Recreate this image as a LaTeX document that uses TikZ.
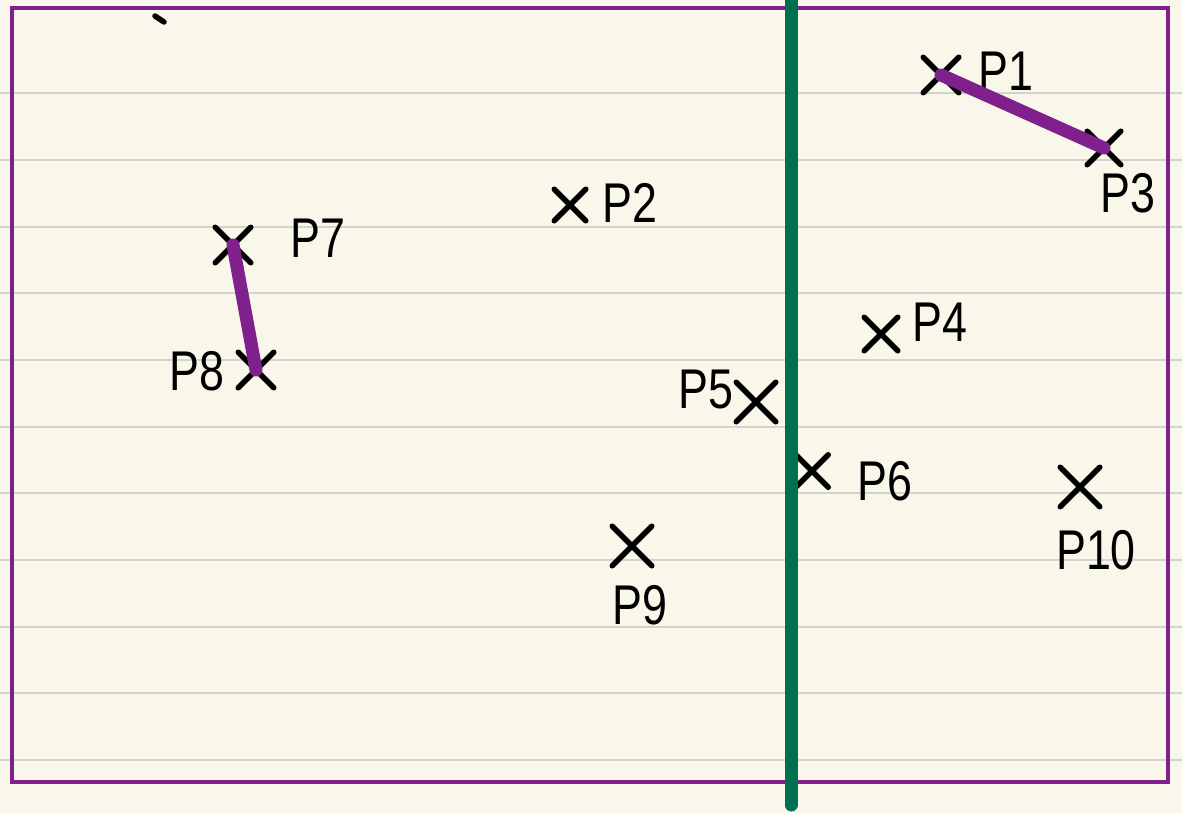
\documentclass[tikz,border=0pt]{standalone}
\usepackage{fontspec}
\setmainfont[FakeStretch=0.8]{Liberation Sans}
\usetikzlibrary{shapes.misc}
\definecolor{paper}{RGB}{249,247,234}
\definecolor{ruleGray}{RGB}{212,212,206}
\definecolor{framePurple}{RGB}{128,32,140}
\definecolor{dividerGreen}{RGB}{0,112,80}
\begin{document}
\begin{tikzpicture}[x=1pt,y=-1pt,
  rule/.style={draw=ruleGray, line width=1.8pt},
  frame/.style={draw=framePurple, line width=4.5pt},
  divider/.style={draw=dividerGreen, line width=13pt, line cap=round},
  xmark/.style={cross out, draw=black, line width=5.5pt, line cap=round, minimum size=30pt, inner sep=0pt},
  lbl/.style={font=\fontsize{56}{60}\selectfont, inner sep=0pt},
  seg/.style={draw=framePurple, line width=13pt, line cap=round}]
\useasboundingbox (0,0) rectangle (1182,813);
\fill[paper] (0,0) rectangle (1182,813);
\foreach \yy in {93,160,227,293,360,427,493,560,627,693,760}
  \draw[rule] (0,\yy) -- (1182,\yy);
\draw[frame] (12,8) rectangle (1168,782);
\draw[black, line width=5.5pt, line cap=round] (155,16) -- (164,22);
% marks
\node[xmark] (x1) at (941,75) {};
\node[xmark, minimum size=28pt] (x3) at (1104,148) {};
\node[xmark, minimum size=26pt] (x2) at (570,205) {};
\node[xmark] (x7) at (233,245) {};
\node[xmark] (x8) at (256,370) {};
\node[xmark, minimum size=28pt] (x4) at (881,334) {};
\node[xmark, minimum size=34pt] (x5) at (756,402) {};
\node[xmark, minimum size=27pt] (x6) at (812,471) {};
\node[xmark, minimum size=34pt] (x9) at (632,546) {};
\node[xmark, minimum size=34pt] (x10) at (1080,487) {};
% labels
\node[lbl] (l1) at (1006,71) {P1};
\node[lbl] (l3) at (1128,193) {P3};
\node[lbl] (l2) at (630,203) {P2};
\node[lbl] (l7) at (318,238) {P7};
\node[lbl] (l8) at (197,371) {P8};
\node[lbl] (l4) at (940,322) {P4};
\node[lbl] (l5) at (706,390) {P5};
\node[lbl] (l6) at (885,481) {P6};
\node[lbl] (l9) at (640,605) {P9};
\node[lbl] (l10) at (1096,550) {P10};
% segments
\draw[seg] (x1.center) -- (x3.center);
\draw[seg] (x7.center) -- (x8.center);
% divider
\draw[divider] (791,0) -- (791,805);
\end{tikzpicture}
\end{document}
